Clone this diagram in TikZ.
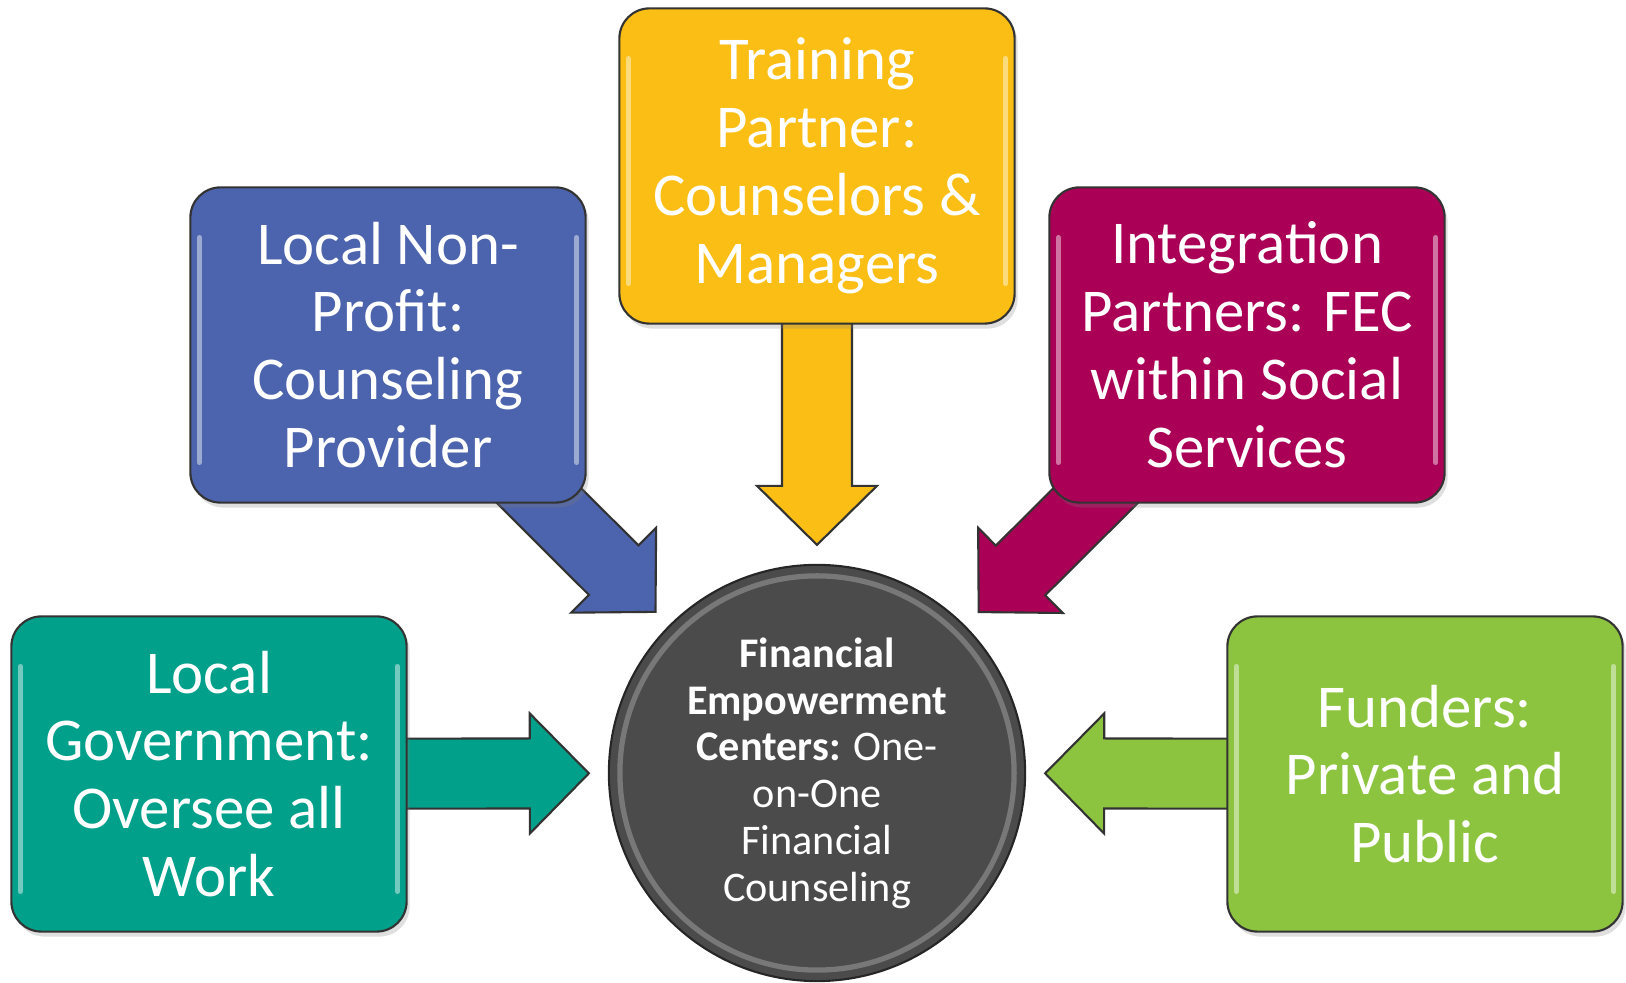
\documentclass[tikz,border=0pt]{standalone}
\usepackage{fontspec}
\setmainfont{Carlito}
\usetikzlibrary{calc,shadows,backgrounds}

\definecolor{fecyellow}{RGB}{250,190,20}
\definecolor{fecblue}{RGB}{76,99,173}
\definecolor{fecmagenta}{RGB}{170,0,86}
\definecolor{fecteal}{RGB}{0,160,138}
\definecolor{fecgreen}{RGB}{140,196,64}
\definecolor{fecgray}{RGB}{75,75,75}

\begin{document}
\begin{tikzpicture}[x=0.01cm,y=-0.01cm,
	partner/.style={draw=black!80, line width=0.6pt, rounded corners=0.3cm,
		minimum width=3.95cm, minimum height=3.15cm, text=white, align=center,
		font=\fontsize{17.3}{19.3}\selectfont,
		drop shadow={opacity=0.25, shadow xshift=0.03cm, shadow yshift=-0.05cm},
		path picture={
			\draw[white, opacity=0.45, line width=1.4pt, line cap=round]
				($(path picture bounding box.north west)+(0.09cm,-0.5cm)$) -- ($(path picture bounding box.south west)+(0.09cm,0.4cm)$)
				($(path picture bounding box.north east)+(-0.09cm,-0.5cm)$) -- ($(path picture bounding box.south east)+(-0.09cm,0.4cm)$);
		}},
	hub/.style={circle, draw=black!85, line width=0.6pt, fill=fecgray, minimum size=4.16cm,
		text=white, align=center, font=\fontsize{12}{13.3}\selectfont}]
		\useasboundingbox (0,0) rectangle (1626,983);
		% partners
		\node[partner, fill=fecyellow] (training) at (817,166) {Training\\Partner:\\Counselors \&\\Managers};
		\node[partner, fill=fecblue] (nonprofit) at (388,345) {Local Non-\\Profit:\\Counseling\\Provider};
		\node[partner, fill=fecmagenta] (integration) at (1247,345) {Integration\\Partners: FEC\\within Social\\Services};
		\node[partner, fill=fecteal] (government) at (209,774) {Local\\Government:\\Oversee all\\Work};
		\node[partner, fill=fecgreen] (funders) at (1425,774) {Funders:\\Private and\\Public};
		% centre
		\node[hub] (fec) at (817,773) {\textbf{Financial}\\\textbf{Empowerment}\\\textbf{Centers:} One-\\on-One\\Financial\\Counseling};
		\draw[white, opacity=0.25, line width=1.5pt] (fec) circle (1.97cm);
		% block arrows
		\begin{pgfonlayer}{background}
		\foreach \src/\col in {training/fecyellow, nonprofit/fecblue, integration/fecmagenta, government/fecteal, funders/fecgreen}{
			\coordinate (tip) at ($(fec)!2.28cm!(\src)$);
			\coordinate (neck) at ($(tip)!0.59cm!(\src)$);
			\filldraw[fill=\col, draw=black!80, line width=0.6pt, line join=miter]
				($(\src)!0.35cm!90:(tip)$) -- ($(neck)!0.35cm!90:(tip)$) -- ($(neck)!0.6cm!90:(tip)$)
				-- (tip) -- ($(neck)!0.6cm!-90:(tip)$) -- ($(neck)!0.35cm!-90:(tip)$) -- ($(\src)!0.35cm!-90:(tip)$) -- cycle;
		}
		\end{pgfonlayer}
	\end{tikzpicture}
\end{document}
